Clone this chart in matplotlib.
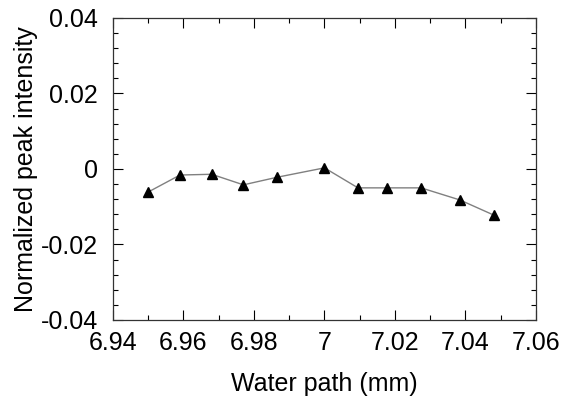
import numpy as np
import matplotlib
matplotlib.use('Agg')
import matplotlib.pyplot as plt
from matplotlib.ticker import MultipleLocator

plt.rcParams['font.family'] = ['Liberation Sans', 'DejaVu Sans']

# Water path (mm) vs normalized peak intensity
water_path = [6.950, 6.959, 6.968, 6.977, 6.9865, 7.000, 7.0095, 7.0177, 7.0274, 7.0384, 7.048]
intensity  = [-0.0061, -0.0016, -0.0014, -0.0042, -0.0022, 0.0003,
              -0.0050, -0.0050, -0.0050, -0.0082, -0.0122]

fig = plt.figure(figsize=(5.63, 4.05), dpi=100)
ax = fig.add_axes([0.2007, 0.2099, 0.7513, 0.7457])

ax.plot(water_path, intensity, color="#808080", linewidth=1.0,
        marker="^", markersize=7, markerfacecolor="black", markeredgecolor="black")

ax.set_xlim(6.94, 7.06)
ax.set_ylim(-0.04, 0.04)
ax.set_xticks([6.94, 6.96, 6.98, 7.0, 7.02, 7.04, 7.06])
ax.set_xticklabels(["6.94", "6.96", "6.98", "7", "7.02", "7.04", "7.06"])
ax.set_yticks([-0.04, -0.02, 0, 0.02, 0.04])
ax.set_yticklabels(["-0.04", "-0.02", "0", "0.02", "0.04"])
ax.xaxis.set_minor_locator(MultipleLocator(0.01))
ax.yaxis.set_minor_locator(MultipleLocator(0.004))

ax.tick_params(which="both", direction="in", top=True, right=True, labelsize=18, width=0.8)
ax.tick_params(which="major", length=7)
ax.tick_params(which="minor", length=3.6)
ax.tick_params(axis="x", which="major", pad=8)
ax.tick_params(axis="y", which="major", pad=11)
for s in ax.spines.values():
    s.set_linewidth(0.9)
    s.set_color("#333333")

ax.set_xlabel("Water path (mm)", fontsize=18, labelpad=12)
ax.set_ylabel("Normalized peak intensity", fontsize=18, labelpad=2)

fig.savefig("out.png", dpi=100)
